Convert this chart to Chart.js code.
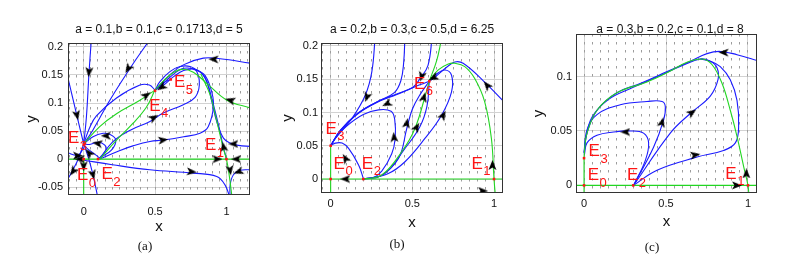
<!DOCTYPE html>
<html>
<head>
<meta charset="utf-8">
<script src="https://cdn.jsdelivr.net/npm/chart.js@4.4.1/dist/chart.umd.min.js"></script>
<style>
  html, body { margin: 0; padding: 0; background: #fff; }
  #fig { position: relative; width: 788px; height: 259px; overflow: hidden; }
  .panel { position: absolute; top: 0; height: 259px; }
</style>
</head>
<body>
<div id="fig">
  <div class="panel" style="left:0;width:262px"><canvas id="chartA"></canvas></div>
  <div class="panel" style="left:270px;width:245px"><canvas id="chartB"></canvas></div>
  <div class="panel" style="left:530px;width:258px"><canvas id="chartC"></canvas></div>
</div>
<script>
const BLUE = '#1a1aff';
const GREEN = '#22d622';
const RED = '#ff1414';
const SANS = '"Liberation Sans", Arial, Helvetica, sans-serif';

// shared x ticks
const X_TICKS = [0, 0.5, 1];

// ---- panel (a) ----
const A_TITLE = 'a = 0.1,b = 0.1,c = 0.1713,d = 5';
const A_Y_TICKS = [-0.05, 0, 0.05, 0.1, 0.15, 0.2];
const A_GREEN = [
  [[-0.12, 0], [1.17, 0]],
  [[0, 0], [0, -0.07]],
  [[0, 0.027], [0.112, 0.058], [0.23, 0.081], [0.394, 0.105], [0.499, 0.123]],
  [[0.112, 0], [0.23, 0.034], [0.346, 0.064], [0.44, 0.093], [0.499, 0.123]],
  [[0.499, 0.123], [0.604, 0.150], [0.687, 0.160], [0.768, 0.155], [0.862, 0.135], [1.003, 0.105], [1.17, 0.091]],
  [[0.82, 0.152], [0.885, 0.115], [0.932, 0.068], [0.977, 0.020], [1.0, 0], [1.019, -0.028], [1.04, -0.07]]
];
const A_BLUE = [
  [[0.469, 0.215], [0.346, 0.170], [0.183, 0.105], [0.065, 0.052], [0, 0.027]],
  [[0.054, 0.215], [0.037, 0.153], [0.019, 0.075], [0, 0.027]],
  [[-0.12, 0.155], [-0.051, 0.081], [0, 0.027]],
  [[0, 0.027], [0.03, 0.005], [0.065, -0.028], [0.1, -0.07]],
  [[0, 0.027], [-0.042, -0.002], [-0.084, -0.023], [-0.12, -0.04]],
  [[-0.12, 0.012], [-0.04, 0.007], [0, 0.02]],
  [[0, -0.002], [0.2, -0.01], [0.464, -0.019], [0.768, -0.025], [0.932, -0.031], [0.99, -0.046], [1.026, -0.07]],
  [[1.17, -0.019], [1.096, -0.02], [1.049, -0.028], [1.026, -0.046], [1.026, -0.07]],
  [[1.17, 0.0226], [1.084, 0.0244], [1.026, 0.0285], [0.979, 0.0374], [0.932, 0.067], [0.897, 0.103], [0.862, 0.138], [0.815, 0.156], [0.745, 0.162], [0.68, 0.16], [0.6, 0.145], [0.55, 0.133], [0.5, 0.123]],
  [[1.0, 0], [0.975, 0.025], [0.945, 0.06], [0.9, 0.105], [0.85, 0.145], [0.78, 0.16], [0.7, 0.158], [0.63, 0.147], [0.56, 0.132], [0.5, 0.123]],
  [[1.17, 0.171], [0.956, 0.179], [0.838, 0.180], [0.698, 0.168], [0.604, 0.150], [0.5, 0.123]],
  [[0.112, 0], [0.2, 0.03], [0.33, 0.052], [0.464, 0.067], [0.557, 0.082], [0.698, 0.097], [0.78, 0.11], [0.81, 0.132], [0.792, 0.156], [0.745, 0.165], [0.675, 0.165], [0.604, 0.156], [0.534, 0.138], [0.5, 0.123]],
  [[0.112, 0], [0.25, 0.015], [0.35, 0.024], [0.464, 0.0315], [0.557, 0.034], [0.7, 0.04], [0.815, 0.046], [0.873, 0.058], [0.909, 0.097], [0.885, 0.13], [0.84, 0.152], [0.77, 0.16]],
  [[0, 0.027], [0.04, 0.055], [0.089, 0.077], [0.23, 0.109], [0.394, 0.132], [0.46, 0.132], [0.5, 0.123]],
  [[0.112, 0.002], [0.194, 0.016], [0.225, 0.034], [0.183, 0.044], [0.136, 0.046], [0.065, 0.040], [0, 0.027]],
  [[0.112, 0.002], [0.155, 0.016], [0.148, 0.025], [0.1, 0.03], [0.042, 0.026], [0, 0.027]],
  [[0.112, 0.002], [0.06, 0.012], [0.02, 0.02], [0, 0.027]],
  [[0.61, 0.142], [0.57, 0.138], [0.53, 0.13], [0.5, 0.123]]
];
// arrow heads: x, y, heading (degrees clockwise from up)
const A_ARROWS = [
  [0.037, 0.155, 185], [0.311, 0.161, 212], [-0.047, 0.078, 167], [0.909, 0.178, 272],
  [1.026, 0.105, 287], [1.049, 0.027, 270], [0.937, 0, 90], [1.068, 0, 270],
  [0.979, 0.022, 350], [1.026, -0.02, 172], [1.084, -0.0226, 250], [0.757, -0.0226, 95],
  [0.557, 0.034, 82], [0.492, 0.074, 60], [0.44, 0.114, 55], [0.546, 0.128, 235],
  [0.155, 0.0415, 270], [0.096, 0.028, 280], [-0.04, 0.006, 90], [-0.028, 0, 270],
  [0, -0.013, 180], [0.037, 0.011, 320], [-0.075, -0.022, 215], [0.065, -0.028, 165]
];
const A_EQ = [[0, 0], [1, 0], [0.1, 0], [0, 0.027], [0.5, 0.122], [0.61, 0.142]];
// label: subscript, x, y of the E baseline-left
const A_LABELS = [['0', -0.047, -0.0374], ['1', 0.85, 0.016], ['2', 0.124, -0.0356], ['3', -0.11, 0.028], ['4', 0.459, 0.086], ['5', 0.632, 0.128]];

// ---- panel (b) ----
const B_TITLE = 'a = 0.2,b = 0.3,c = 0.5,d = 6.25';
const B_Y_TICKS = [0, 0.05, 0.1, 0.15, 0.2];
const B_GREEN = [
  [[-0.07, 0], [1.07, 0]],
  [[0, -0.03], [0, 0.05]],
  [[0.2, 0], [0.313, 0.006], [0.435, 0.041], [0.516, 0.076], [0.588, 0.133], [0.604, 0.147], [0.649, 0.178], [0.679, 0.211]],
  [[0.598, 0.146], [0.659, 0.164], [0.72, 0.173], [0.76, 0.174], [0.821, 0.169], [0.882, 0.151], [0.943, 0.116], [0.984, 0.061], [1.0, 0], [1.01, -0.03]]
];
const B_BLUE = [
  [[0.273, 0.215], [0.252, 0.161], [0.212, 0.126], [0.13, 0.091], [0.029, 0.061], [0, 0.05]],
  [[0.455, 0.215], [0.447, 0.175], [0.43, 0.148], [0.39, 0.13], [0.283, 0.116], [0.161, 0.098], [0.059, 0.073], [0, 0.05]],
  [[0.622, 0.215], [0.596, 0.171], [0.547, 0.151], [0.504, 0.138], [0.405, 0.128], [0.283, 0.116], [0.161, 0.098], [0.059, 0.073], [0, 0.05]],
  [[0.604, 0.147], [0.55, 0.142], [0.5, 0.137], [0.405, 0.127], [0.283, 0.115], [0.161, 0.097], [0.059, 0.072], [0, 0.05]],
  [[0.2, 0], [0.26, 0.002], [0.313, 0.012], [0.374, 0.038], [0.395, 0.061], [0.392, 0.09], [0.37, 0.102], [0.293, 0.104], [0.2, 0.097], [0.1, 0.08], [0.03, 0.062], [0, 0.05]],
  [[0.2, 0.001], [0.171, 0.021], [0.11, 0.046], [0.07, 0.054], [0.029, 0.054], [0, 0.05]],
  [[0.2, 0], [0.3, 0.004], [0.415, 0.031], [0.466, 0.076], [0.5, 0.105], [0.55, 0.128], [0.604, 0.147]],
  [[0.2, 0], [0.33, 0.008], [0.455, 0.046], [0.547, 0.079], [0.59, 0.11], [0.604, 0.147]],
  [[0.2, 0], [0.35, 0.008], [0.455, 0.026], [0.577, 0.061], [0.679, 0.096], [0.74, 0.131], [0.74, 0.156], [0.699, 0.164], [0.638, 0.156], [0.604, 0.147]],
  [[1.07, 0.114], [0.933, 0.148], [0.811, 0.174], [0.76, 0.176], [0.71, 0.168], [0.638, 0.153], [0.604, 0.147]]
];
const B_ARROWS = [
  [0.222, 0.123, 200], [0.344, 0.113, 245], [0.557, 0.154, 195], [0.628, 0.152, 245],
  [0.957, 0.141, 320], [0.388, 0.063, 355], [0.466, 0.084, 10], [0.527, 0.078, 30],
  [0.571, 0.123, 15], [0.689, 0.096, 30], [0.09, 0.031, 330], [0.09, 0, 270],
  [0.99, 0.021, 0], [0.933, -0.018, 90]
];
const B_EQ = [[0, 0], [1, 0], [0.2, 0], [0, 0.05], [0.604, 0.147]];
const B_LABELS = [['0', 0.018, 0.0156], ['1', 0.862, 0.0156], ['2', 0.191, 0.0156], ['3', -0.032, 0.068], ['6', 0.51, 0.136]];

// ---- panel (c) ----
const C_TITLE = 'a = 0.3,b = 0.2,c = 0.1,d = 8';
const C_Y_TICKS = [0, 0.05, 0.1];
const C_GREEN = [
  [[-0.06, 0], [1.07, 0]],
  [[0, -0.01], [0, 0.025]],
  [[0, 0.025], [0.004, 0.034], [0.018, 0.048], [0.079, 0.069], [0.201, 0.085], [0.384, 0.095], [0.526, 0.105], [0.628, 0.113], [0.72, 0.116], [0.78, 0.111], [0.841, 0.094], [0.892, 0.069], [0.933, 0.045], [0.974, 0.017], [1.0, 0], [1.006, -0.01]]
];
const C_BLUE = [
  [[1.07, 0.114], [0.933, 0.12], [0.831, 0.123], [0.75, 0.121], [0.648, 0.114], [0.5, 0.104], [0.35, 0.094], [0.2, 0.085], [0.08, 0.069], [0.02, 0.049], [0, 0.03]],
  [[0.302, 0], [0.374, 0.023], [0.394, 0.039], [0.363, 0.048], [0.282, 0.05], [0.18, 0.049], [0.079, 0.046], [0.018, 0.039], [0.002, 0.028]],
  [[0.302, 0], [0.424, 0.035], [0.485, 0.06], [0.496, 0.072], [0.476, 0.077], [0.384, 0.077], [0.221, 0.074], [0.079, 0.065], [0.018, 0.051], [0.002, 0.029]],
  [[0.302, 0], [0.526, 0.048], [0.648, 0.066], [0.77, 0.082], [0.817, 0.097], [0.811, 0.108], [0.77, 0.114], [0.709, 0.116], [0.6, 0.11], [0.45, 0.1], [0.3, 0.09], [0.15, 0.079], [0.05, 0.063], [0.01, 0.043], [0, 0.03]],
  [[0.302, 0], [0.445, 0.014], [0.689, 0.026], [0.851, 0.032], [0.923, 0.039], [0.943, 0.054], [0.933, 0.078], [0.892, 0.097], [0.831, 0.109], [0.77, 0.114], [0.709, 0.116]]
];
const C_ARROWS = [
  [0.252, 0.049, 270], [0.476, 0.058, 15], [0.659, 0.067, 55], [0.679, 0.028, 80],
  [0.851, 0.122, 272], [0.933, 0, 90], [0.99, 0.011, 0]
];
const C_EQ = [[0, 0], [1, 0], [0.3, 0], [0, 0.025]];
const C_LABELS = [['0', 0.022, 0.0046], ['1', 0.862, 0.0062], ['2', 0.262, 0.0046], ['3', 0.028, 0.0268]];

Chart.defaults.font.family = SANS;
Chart.defaults.color = '#111';

// small arrow head used as a point style
function makeArrowHead() {
  const c = document.createElement('canvas');
  c.width = 9; c.height = 10;
  const g = c.getContext('2d');
  g.fillStyle = '#000';
  g.beginPath();
  g.moveTo(4.5, 0);
  g.lineTo(8.5, 10);
  g.lineTo(4.5, 7.5);
  g.lineTo(0.5, 10);
  g.closePath();
  g.fill();
  return c;
}
const arrowHead = makeArrowHead();

// 0.20 -> "0.2", 1.0 -> "1"
const tickText = v => String(parseFloat(Number(v).toFixed(3)));

const panelDecor = {
  id: 'panelDecor',
  afterDatasetsDraw(chart, args, opts) {
    const { ctx, scales: { x, y } } = chart;
    ctx.save();
    ctx.fillStyle = RED;
    ctx.textAlign = 'left';
    ctx.textBaseline = 'alphabetic';
    opts.labels.forEach(([sub, vx, vy]) => {
      const px = x.getPixelForValue(vx);
      const py = y.getPixelForValue(vy);
      ctx.font = '17px ' + SANS;
      ctx.fillText('E', px, py);
      const w = ctx.measureText('E').width;
      ctx.font = '13px ' + SANS;
      ctx.fillText(sub, px + w + 0.5, py + 6.5);
    });
    ctx.restore();
  },
  afterDraw(chart, args, opts) {
    const { ctx, chartArea: a } = chart;
    ctx.save();
    ctx.strokeStyle = '#333';
    ctx.lineWidth = 1;
    ctx.strokeRect(Math.round(a.left) + 0.5, Math.round(a.top) + 0.5, Math.round(a.width) - 1, Math.round(a.height) - 1);
    ctx.fillStyle = '#111';
    ctx.textAlign = 'center';
    ctx.textBaseline = 'middle';
    ctx.font = '12px ' + SANS;
    ctx.fillText(opts.title, opts.titleX, opts.titleY);
    ctx.font = '13px "Liberation Serif", "Times New Roman", serif';
    ctx.fillText(opts.caption, opts.capX, opts.capY);
    ctx.restore();
  }
};

const toPts = c => c.map(([x, y]) => ({ x, y }));

function makePanel(id, cfg) {
  const line = { showLine: true, pointRadius: 0, borderWidth: 1.1, tension: 0.4, fill: false };
  const datasets = [
    { data: toPts(cfg.eq), showLine: false, pointStyle: 'rect', pointRadius: 1.8, backgroundColor: RED, borderWidth: 0 },
    { data: toPts(cfg.arrows), showLine: false, pointStyle: arrowHead, pointRadius: 4,
      pointRotation: cfg.arrows.map(a => a[2]) },
    ...cfg.green.map(c => ({ data: toPts(c), borderColor: GREEN, ...line })),
    ...cfg.blue.map(c => ({ data: toPts(c), borderColor: BLUE, ...line }))
  ];

  new Chart(document.getElementById(id), {
    type: 'scatter',
    data: { datasets },
    options: {
      responsive: true,
      maintainAspectRatio: false,
      animation: false,
      events: [],
      layout: { padding: { left: 0, top: cfg.top, right: cfg.right, bottom: 0 } },
      plugins: {
        legend: { display: false },
        tooltip: { enabled: false },
        panelDecor: {
          labels: cfg.labels, title: cfg.title, titleX: cfg.titleX, titleY: 30,
          caption: cfg.caption, capX: cfg.capX, capY: cfg.capY
        }
      },
      scales: {
        x: {
          type: 'linear', min: cfg.xr[0], max: cfg.xr[1],
          afterBuildTicks: s => { s.ticks = X_TICKS.map(v => ({ value: v })); },
          afterFit: s => { s.height = cfg.xAxisH; },
          grid: { color: '#d2d2d2', drawTicks: false },
          border: { display: false },
          ticks: { padding: cfg.xTickPad, font: { size: 11 }, callback: tickText },
          title: { display: true, text: 'x', font: { size: 15 }, padding: { top: 0, bottom: cfg.xTitlePad } }
        },
        y: {
          type: 'linear', min: cfg.yr[0], max: cfg.yr[1],
          afterBuildTicks: s => { s.ticks = cfg.yTicks.map(v => ({ value: v })); },
          afterFit: s => { s.width = cfg.yAxisW; },
          grid: { color: '#d2d2d2', drawTicks: false },
          border: { display: false },
          ticks: { padding: cfg.yTickPad, font: { size: 11 }, callback: tickText },
          title: { display: true, text: 'y', font: { size: 15 }, padding: { top: cfg.yTitlePad, bottom: 0 } }
        },
        q: {
          type: 'linear', position: 'top', min: cfg.xr[0], max: cfg.xr[1],
          afterFit: s => { s.height = 0; },
          ticks: { display: false, stepSize: 0.05, includeBounds: false },
          grid: { color: '#9c9c9c', drawTicks: false },
          border: { display: false, dash: [2.5, 5.5] }
        }
      }
    },
    plugins: [panelDecor]
  });
}

makePanel('chartA', {
  green: A_GREEN, blue: A_BLUE, arrows: A_ARROWS, eq: A_EQ, labels: A_LABELS, yTicks: A_Y_TICKS,
  xr: [-0.11, 1.165], yr: [-0.064, 0.207],
  top: 43, right: 12, xAxisH: 64, yAxisW: 68, xTickPad: 10, yTickPad: 5, xTitlePad: 23, yTitlePad: 23,
  title: A_TITLE, titleX: 159, caption: '(a)', capX: 145, capY: 247
});
makePanel('chartB', {
  green: B_GREEN, blue: B_BLUE, arrows: B_ARROWS, eq: B_EQ, labels: B_LABELS, yTicks: B_Y_TICKS,
  xr: [-0.059, 1.055], yr: [-0.021, 0.2045],
  top: 43, right: 12, xAxisH: 66, yAxisW: 51, xTickPad: 4, yTickPad: 3, xTitlePad: 27, yTitlePad: 9,
  title: B_TITLE, titleX: 142, caption: '(b)', capX: 127, capY: 245
});
makePanel('chartC', {
  green: C_GREEN, blue: C_BLUE, arrows: C_ARROWS, eq: C_EQ, labels: C_LABELS, yTicks: C_Y_TICKS,
  xr: [-0.049, 1.055], yr: [-0.007, 0.139],
  top: 34, right: 31, xAxisH: 66, yAxisW: 46, xTickPad: 4, yTickPad: 4, xTitlePad: 28, yTitlePad: 0,
  title: C_TITLE, titleX: 140, caption: '(c)', capX: 122, capY: 248
});
</script>
</body>
</html>
